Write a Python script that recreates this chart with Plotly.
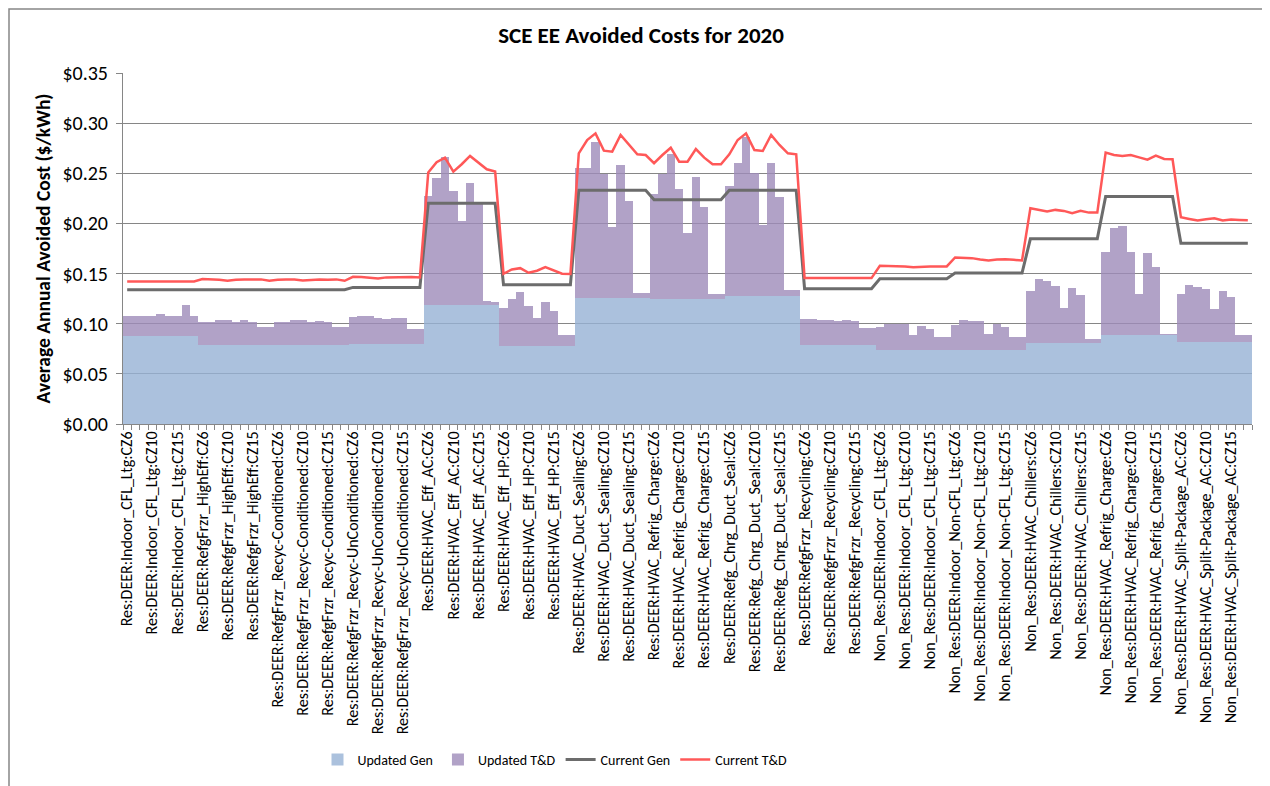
import plotly.graph_objects as go

# categorias: 15 medidas x 9 zonas climaticas
measures = [
    "Res:DEER:Indoor_CFL_Ltg", "Res:DEER:RefgFrzr_HighEff",
    "Res:DEER:RefgFrzr_Recyc-Conditioned", "Res:DEER:RefgFrzr_Recyc-UnConditioned",
    "Res:DEER:HVAC_Eff_AC", "Res:DEER:HVAC_Eff_HP", "Res:DEER:HVAC_Duct_Sealing",
    "Res:DEER:HVAC_Refrig_Charge", "Res:DEER:Refg_Chrg_Duct_Seal",
    "Res:DEER:RefgFrzr_Recycling", "Non_Res:DEER:Indoor_CFL_Ltg",
    "Non_Res:DEER:Indoor_Non-CFL_Ltg", "Non_Res:DEER:HVAC_Chillers",
    "Non_Res:DEER:HVAC_Refrig_Charge", "Non_Res:DEER:HVAC_Split-Package_AC",
]
zones = ["CZ6", "CZ8", "CZ9", "CZ10", "CZ13", "CZ14", "CZ15", "CZ16", "CZ5"]
categories = [m + ":" + z for m in measures for z in zones]

updated_gen = [
    .0874, .0874, .0874, .0874, .0874, .0874, .0874, .0874, .0874,
    .0791, .0791, .0791, .0791, .0791, .0791, .0791, .0791, .0791,
    .0791, .0791, .0791, .0791, .0791, .0791, .0791, .0791, .0791,
    .0800, .0800, .0800, .0800, .0800, .0800, .0800, .0800, .0800,
    .1190, .1190, .1190, .1190, .1190, .1190, .1190, .1190, .1190,
    .0775, .0775, .0775, .0775, .0775, .0775, .0775, .0775, .0775,
    .1255, .1255, .1255, .1255, .1255, .1255, .1255, .1255, .1255,
    .1243, .1243, .1243, .1243, .1243, .1243, .1243, .1243, .1243,
    .1279, .1279, .1279, .1279, .1279, .1279, .1279, .1279, .1279,
    .0791, .0791, .0791, .0791, .0791, .0791, .0791, .0791, .0791,
    .0735, .0735, .0735, .0735, .0735, .0735, .0735, .0735, .0735,
    .0735, .0735, .0735, .0735, .0735, .0735, .0735, .0735, .0735,
    .0808, .0808, .0808, .0808, .0808, .0808, .0808, .0808, .0808,
    .0884, .0884, .0884, .0884, .0884, .0884, .0884, .0884, .0884,
    .0818, .0818, .0818, .0818, .0818, .0818, .0818, .0818, .0818,
]
updated_td = [
    .0206, .0206, .0206, .0206, .0226, .0206, .0206, .0316, .0206,
    .0229, .0229, .0242, .0242, .0223, .0242, .0229, .0179, .0179,
    .0229, .0229, .0242, .0242, .0223, .0239, .0229, .0179, .0179,
    .0263, .0277, .0277, .0253, .0247, .0260, .0253, .0147, .0147,
    .1088, .1267, .1473, .1134, .0839, .1210, .1010, .0033, .0030,
    .0378, .0474, .0544, .0405, .0285, .0441, .0348, .0116, .0115,
    .1293, .1293, .1555, .1242, .0705, .1332, .0973, .0049, .0049,
    .1047, .1254, .1445, .1103, .0657, .1224, .0925, .0057, .0057,
    .1095, .1327, .1579, .1221, .0707, .1321, .0989, .0053, .0053,
    .0259, .0259, .0249, .0249, .0232, .0249, .0232, .0166, .0166,
    .0229, .0262, .0262, .0262, .0155, .0242, .0215, .0129, .0129,
    .0248, .0305, .0295, .0295, .0165, .0262, .0235, .0132, .0132,
    .0521, .0637, .0620, .0567, .0348, .0547, .0474, .0040, .0040,
    .0836, .1069, .1092, .0836, .0412, .0820, .0680, .0013, .0013,
    .0481, .0567, .0547, .0524, .0328, .0504, .0448, .0066, .0066,
]
current_gen = [
    .1339, .1339, .1339, .1339, .1339, .1339, .1339, .1339, .1339,
    .1339, .1339, .1339, .1339, .1339, .1339, .1339, .1339, .1339,
    .1339, .1339, .1339, .1339, .1339, .1339, .1339, .1339, .1339,
    .1362, .1362, .1362, .1362, .1362, .1362, .1362, .1362, .1362,
    .2200, .2200, .2200, .2200, .2200, .2200, .2200, .2200, .2200,
    .1389, .1389, .1389, .1389, .1389, .1389, .1389, .1389, .1389,
    .2330, .2330, .2330, .2330, .2330, .2330, .2330, .2330, .2330,
    .2235, .2235, .2235, .2235, .2235, .2235, .2235, .2235, .2235,
    .2330, .2330, .2330, .2330, .2330, .2330, .2330, .2330, .2330,
    .1349, .1349, .1349, .1349, .1349, .1349, .1349, .1349, .1349,
    .1448, .1448, .1448, .1448, .1448, .1448, .1448, .1448, .1448,
    .1505, .1505, .1505, .1505, .1505, .1505, .1505, .1505, .1505,
    .1846, .1846, .1846, .1846, .1846, .1846, .1846, .1846, .1846,
    .2268, .2268, .2268, .2268, .2268, .2268, .2268, .2268, .2268,
    .1803, .1803, .1803, .1803, .1803, .1803, .1803, .1803, .1803,
]
current_td = [
    .1422, .1422, .1422, .1422, .1422, .1422, .1422, .1422, .1422,
    .1445, .1442, .1439, .1428, .1439, .1442, .1442, .1442, .1428,
    .1439, .1442, .1442, .1432, .1439, .1442, .1439, .1442, .1428,
    .1468, .1465, .1459, .1452, .1462, .1465, .1465, .1465, .1462,
    .2507, .2610, .2656, .2517, .2590, .2673, .2606, .2540, .2517,
    .1498, .1541, .1554, .1508, .1528, .1564, .1534, .1498, .1495,
    .2699, .2832, .2898, .2726, .2716, .2882, .2782, .2689, .2682,
    .2600, .2682, .2755, .2616, .2616, .2742, .2656, .2590, .2590,
    .2689, .2832, .2898, .2732, .2722, .2882, .2782, .2699, .2689,
    .1455, .1455, .1455, .1458, .1455, .1455, .1452, .1452, .1455,
    .1578, .1578, .1578, .1571, .1564, .1571, .1571, .1571, .1571,
    .1661, .1661, .1654, .1641, .1631, .1641, .1644, .1637, .1631,
    .2152, .2135, .2118, .2135, .2125, .2102, .2125, .2108, .2108,
    .2706, .2682, .2673, .2682, .2659, .2636, .2676, .2643, .2640,
    .2062, .2045, .2029, .2042, .2052, .2029, .2039, .2035, .2032,
]

FONT = "Carlito, Calibri, Lato, sans-serif"
GRID = "rgb(134,134,134)"
x = list(range(len(categories)))

fig = go.Figure()
fig.add_trace(go.Bar(x=x, y=updated_gen, name="Updated Gen", customdata=categories,
                     marker=dict(color="rgba(150,178,212,0.8)", line=dict(width=0)),
                     hovertemplate="%{customdata}<br>%{y:$.4f}<extra></extra>"))
fig.add_trace(go.Bar(x=x, y=updated_td, name="Updated T&D", customdata=categories,
                     marker=dict(color="rgba(157,139,185,0.8)", line=dict(width=0)),
                     hovertemplate="%{customdata}<br>%{y:$.4f}<extra></extra>"))
fig.add_trace(go.Scatter(x=x, y=current_gen, name="Current Gen", mode="lines",
                         line=dict(color="rgb(108,108,108)", width=3)))
fig.add_trace(go.Scatter(x=x, y=current_td, name="Current T&D", mode="lines",
                         line=dict(color="rgb(255,88,88)", width=2.5)))

# la pagina tiene 8px de margen en el body: se compensa aqui
W, H = 1270, 786
L, R, T, B = 115, 26, 65, 370
pw, ph = W - L - R, H - T - B

fig.update_layout(
    width=W, height=H,
    margin=dict(l=L, r=R, t=T, b=B, autoexpand=False),
    paper_bgcolor="white", plot_bgcolor="white",
    font=dict(family=FONT, color="black"),
    barmode="stack", bargap=0,
    title=dict(text="<b>SCE EE Avoided Costs for 2020</b>", xref="container",
               x=(641 - 8) / W, xanchor="center",
               y=1 - 27 / H, yanchor="middle", font=dict(size=23)),
    showlegend=True,
    legend=dict(orientation="h", x=(547 - L) / pw, xanchor="center", y=(T + ph - 752) / ph,
                yanchor="middle", font=dict(size=14), traceorder="normal",
                itemwidth=30),
    xaxis=dict(
        range=[-0.5, len(categories) - 0.5],
        tickmode="array", tickvals=x[::3], ticktext=categories[::3],
        tickangle=-90, tickfont=dict(size=16), ticks="",
        showline=True, linecolor=GRID, linewidth=1, showgrid=False, zeroline=False,
        minor=dict(tickmode="linear", tick0=-0.5, dtick=1, ticks="outside",
                   ticklen=5, tickcolor=GRID, showgrid=False),
    ),
    yaxis=dict(
        range=[0, 0.35], dtick=0.05, tickformat="$.2f", tickfont=dict(size=20),
        ticklabelstandoff=4,
        title=dict(text="<b>Average Annual Avoided Cost ($/kWh)</b>", font=dict(size=19.5),
                   standoff=6),
        showgrid=True, gridcolor=GRID, gridwidth=1,
        showline=True, linecolor=GRID, ticks="outside", ticklen=6, tickcolor=GRID,
        zeroline=False,
    ),
    shapes=[dict(type="rect", xref="paper", yref="paper",
                 x0=(1 - L) / pw, x1=(1256 - L) / pw,
                 y0=(T + ph - 800) / ph, y1=(T + ph - 1) / ph,
                 line=dict(color="rgb(134,134,134)", width=1.5), fillcolor="rgba(0,0,0,0)")],
)

fig.write_html("out.html")
